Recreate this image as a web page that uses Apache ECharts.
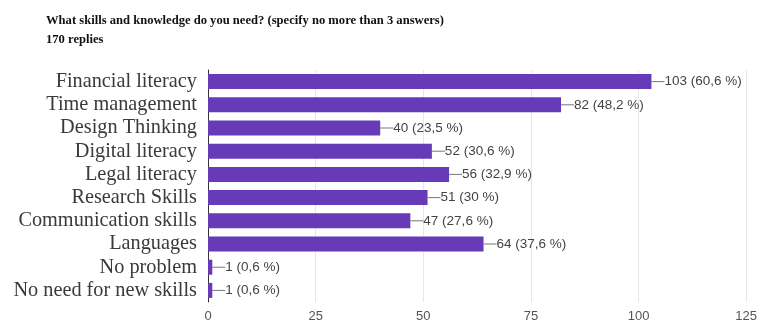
<!DOCTYPE html>
<html><head><meta charset="utf-8">
<script src="https://cdn.jsdelivr.net/npm/echarts@6/dist/echarts.min.js"></script>
<style>html,body{margin:0;padding:0;background:#fff}#c{width:760px;height:323px}</style>
</head><body><div id="c"></div>
<script>
const titleText = "What skills and knowledge do you need? (specify no more than 3 answers)";
const subtitleText = "170 replies";
const categories = ["Financial literacy","Time management","Design Thinking","Digital literacy","Legal literacy","Research Skills","Communication skills","Languages","No problem","No need for new skills"];
const counts = [103,82,40,52,56,51,47,64,1,1];
const percents = ["60,6","48,2","23,5","30,6","32,9","30","27,6","37,6","0,6","0,6"];
const xTicks = [0,25,50,75,100,125];

const chart = echarts.init(document.getElementById('c'));
chart.setOption({
  animation:false,
  backgroundColor:'#fff',
  title:[
    {text:titleText,left:46,top:14,padding:0,textStyle:{fontFamily:'Liberation Serif',fontWeight:'bold',fontSize:12.6,color:'#111'}},
    {text:subtitleText,left:46,top:33,padding:0,textStyle:{fontFamily:'Liberation Serif',fontWeight:'bold',fontSize:12.6,color:'#111'}}
  ],
  grid:{left:208,right:11,top:70,bottom:20,containLabel:false},
  xAxis:{type:'value',min:xTicks[0],max:xTicks[xTicks.length-1],interval:25,
    axisLine:{show:false},axisTick:{show:false},
    splitLine:{show:true,lineStyle:{color:'#e6e6e6',width:1}},
    axisLabel:{color:'#555',fontFamily:'Arial, Liberation Sans',fontSize:13,margin:8}},
  yAxis:{type:'category',data:categories,inverse:true,
    axisLine:{show:true,lineStyle:{color:'#333',width:1}},axisTick:{show:false},
    splitLine:{show:false},
    axisLabel:{interval:0,color:'#3a3a3a',fontFamily:'Liberation Serif',fontSize:20.3,margin:11}},
  series:[{type:'bar',data:counts,barWidth:15,
    itemStyle:{color:'#673ab7'},
    label:{show:true,position:'right',distance:0,
      formatter:p=>'{l|}'+counts[p.dataIndex]+' ('+percents[p.dataIndex]+' %)',
      color:'#444',fontFamily:'Arial, Liberation Sans',fontSize:13.5,
      rich:{l:{width:13,height:1,backgroundColor:'#777',padding:0}}}
  }]
});
</script></body></html>
